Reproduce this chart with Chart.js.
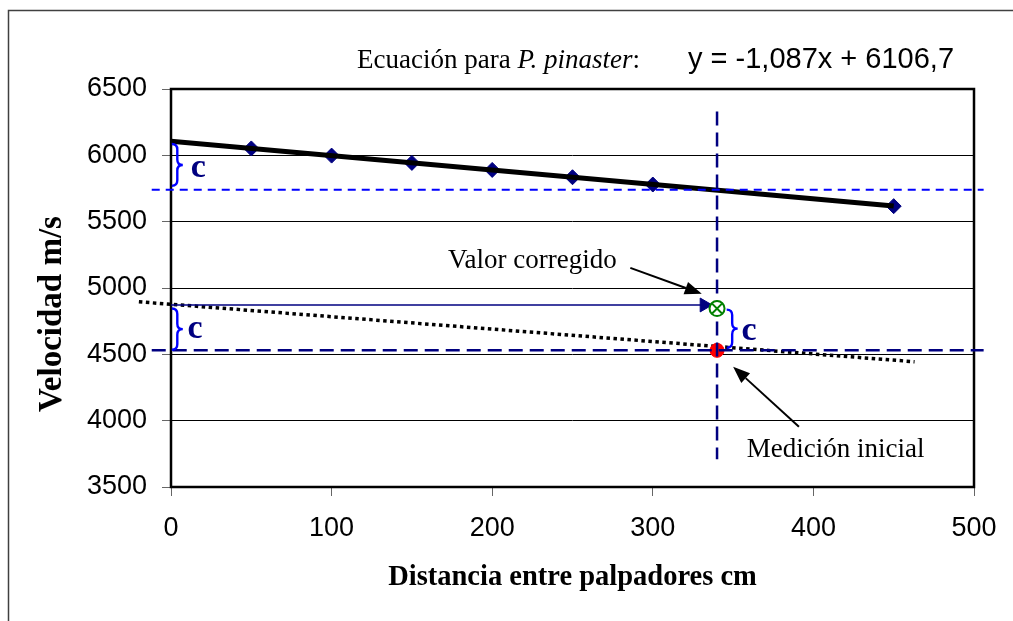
<!DOCTYPE html>
<html>
<head>
<meta charset="utf-8">
<script src="https://cdn.jsdelivr.net/npm/chart.js@4.4.1/dist/chart.umd.min.js"></script>
<style>
  html, body { margin: 0; padding: 0; background: #fff; }
  canvas { display: block; }
</style>
</head>
<body>
<canvas id="velocidadChart" width="1013" height="621"></canvas>
<script>
// medidas P. pinaster
const distancias = [50, 100, 150, 200, 250, 300, 450];
const velocidades = [6052, 5998, 5943, 5890, 5835, 5780, 5617];

// linea de tendencia
const tendenciaX = [0, 450];
const tendenciaY = [6107, 5618];

// tendencia punteada de la medicion
const punteadaX = [-20, 463];
const punteadaY = [4896, 4444];

// lineas guia
const guiaSupX = [-12, 506];
const guiaSupY = [5740, 5740];
const guiaInfX = [-12, 506];
const guiaInfY = [4530, 4530];
const guiaVertX = [340, 340];
const guiaVertY = [6330, 3710];
const flechaX = [0, 332];
const flechaY = [4872, 4872];

// puntos
const inicialX = [340];
const inicialY = [4530];
const corregidoX = [340];
const corregidoY = [4845];

const xTicks = [0, 100, 200, 300, 400, 500];
const yTicks = [3500, 4000, 4500, 5000, 5500, 6000, 6500];

const toPoints = (xs, ys) => xs.map((x, i) => ({x: x, y: ys[i]}));

// anotaciones en coordenadas de datos
const llaves = [
    {x: 0.5, y1: 6085, y2: 5770},
    {x: 0.5, y1: 4845, y2: 4535},
    {x: 346, y1: 4837, y2: 4550}
];
const etiquetasC = [
    {x: 17, y: 5898},
    {x: 15, y: 4678},
    {x: 360, y: 4663}
];
const flechas = [
    {x1: 286, y1: 5152, x2: 330.5, y2: 4956},
    {x1: 391, y1: 3955, x2: 350, y2: 4407}
];
const textos = [
    {text: 'Valor corregido', x: 172.5, y: 5152},
    {text: 'Medición inicial', x: 358.5, y: 3729}
];

const SERIF = '"Liberation Serif", "Times New Roman", serif';
const SANS = '"Liberation Sans", Arial, sans-serif';

function dibujarFlecha(ctx, x1, y1, x2, y2, largo, ancho) {
    const ang = Math.atan2(y2 - y1, x2 - x1);
    const bx = x2 - largo * Math.cos(ang);
    const by = y2 - largo * Math.sin(ang);
    ctx.beginPath();
    ctx.moveTo(x1, y1);
    ctx.lineTo(bx, by);
    ctx.stroke();
    ctx.beginPath();
    ctx.moveTo(x2, y2);
    ctx.lineTo(bx + ancho / 2 * Math.sin(ang), by - ancho / 2 * Math.cos(ang));
    ctx.lineTo(bx - ancho / 2 * Math.sin(ang), by + ancho / 2 * Math.cos(ang));
    ctx.closePath();
    ctx.fill();
}

function dibujarLlave(ctx, x, yTop, yBot, w) {
    const mid = (yTop + yBot) / 2;
    const h = w / 2;
    ctx.beginPath();
    ctx.moveTo(x, yTop);
    ctx.quadraticCurveTo(x + h, yTop, x + h, yTop + h);
    ctx.lineTo(x + h, mid - h);
    ctx.quadraticCurveTo(x + h, mid, x + w, mid);
    ctx.quadraticCurveTo(x + h, mid, x + h, mid + h);
    ctx.lineTo(x + h, yBot - h);
    ctx.quadraticCurveTo(x + h, yBot, x, yBot);
    ctx.stroke();
}

const extras = {
    id: 'extras',
    beforeDraw(chart) {
        const ctx = chart.ctx;
        ctx.save();
        ctx.fillStyle = '#fff';
        ctx.fillRect(0, 0, chart.width, chart.height);
        ctx.strokeStyle = '#404040';
        ctx.lineWidth = 1.5;
        ctx.strokeRect(8.5, 10.5, chart.width + 20, chart.height + 20);
        ctx.restore();
    },
    beforeDatasetsDraw(chart) {
        const {ctx, chartArea: a} = chart;
        ctx.save();
        ctx.strokeStyle = '#000';
        ctx.lineWidth = 2.5;
        ctx.strokeRect(a.left, a.top, a.right - a.left, a.bottom - a.top);
        ctx.restore();
    },
    afterDatasetsDraw(chart) {
        const ctx = chart.ctx;
        const sx = chart.scales.x, sy = chart.scales.y;
        ctx.save();

        // llaves
        ctx.strokeStyle = '#0000FF';
        ctx.lineWidth = 2.4;
        llaves.forEach(l => {
            dibujarLlave(ctx, sx.getPixelForValue(l.x), sy.getPixelForValue(l.y1), sy.getPixelForValue(l.y2), 11);
        });

        // etiquetas c
        ctx.fillStyle = '#000080';
        ctx.font = 'bold 34px ' + SERIF;
        ctx.textAlign = 'center';
        ctx.textBaseline = 'middle';
        etiquetasC.forEach(c => {
            ctx.fillText('c', sx.getPixelForValue(c.x), sy.getPixelForValue(c.y) - 1);
        });

        // flechas
        ctx.strokeStyle = '#000';
        ctx.fillStyle = '#000';
        ctx.lineWidth = 2;
        flechas.forEach(f => {
            dibujarFlecha(ctx, sx.getPixelForValue(f.x1), sy.getPixelForValue(f.y1),
                sx.getPixelForValue(f.x2), sy.getPixelForValue(f.y2), 17, 13);
        });

        // textos
        ctx.font = '27px ' + SERIF;
        ctx.textAlign = 'left';
        ctx.textBaseline = 'alphabetic';
        textos.forEach(t => {
            ctx.fillText(t.text, sx.getPixelForValue(t.x), sy.getPixelForValue(t.y));
        });

        // ecuacion
        let x = 357;
        const base = 68;
        ctx.font = '27px ' + SERIF;
        ctx.fillText('Ecuación para ', x, base);
        x += ctx.measureText('Ecuación para ').width;
        ctx.font = 'italic 27px ' + SERIF;
        ctx.fillText('P. pinaster', x, base);
        x += ctx.measureText('P. pinaster').width;
        ctx.font = '27px ' + SERIF;
        ctx.fillText(':', x, base);
        ctx.font = '29px ' + SANS;
        ctx.fillText('y = -1,087x + 6106,7', 688, base);

        // titulo eje y
        ctx.translate(52, 314);
        ctx.rotate(-Math.PI / 2);
        ctx.font = 'bold 33px ' + SERIF;
        ctx.textAlign = 'center';
        ctx.textBaseline = 'middle';
        ctx.fillText('Velocidad m/s', 0, 0);
        ctx.restore();
    }
};

const ctx = document.getElementById('velocidadChart').getContext('2d');
const velocidadChart = new Chart(ctx, {
    type: 'scatter',
    data: {
        datasets: [
            {
                label: 'corregido cruz',
                data: toPoints(corregidoX, corregidoY),
                pointStyle: 'crossRot',
                pointRadius: 7,
                borderColor: '#008000',
                borderWidth: 2,
                order: 0
            },
            {
                label: 'corregido',
                data: toPoints(corregidoX, corregidoY),
                pointStyle: 'circle',
                pointRadius: 7.5,
                backgroundColor: '#fff',
                borderColor: '#008000',
                borderWidth: 2,
                order: 1
            },
            {
                label: 'flecha',
                data: toPoints(flechaX, flechaY),
                showLine: true,
                borderColor: '#000080',
                borderWidth: 1.5,
                pointStyle: 'triangle',
                pointRadius: [0, 8],
                pointRotation: 90,
                pointBackgroundColor: '#000080',
                pointBorderColor: '#000080',
                pointBorderWidth: 1,
                clip: false,
                order: 2
            },
            {
                label: 'guia vertical',
                data: toPoints(guiaVertX, guiaVertY),
                showLine: true,
                borderColor: '#000080',
                borderWidth: 2.5,
                borderDash: [14, 7],
                pointRadius: 0,
                clip: false,
                order: 3
            },
            {
                label: 'guia inferior',
                data: toPoints(guiaInfX, guiaInfY),
                showLine: true,
                borderColor: '#000080',
                borderWidth: 2.5,
                borderDash: [14, 7],
                pointRadius: 0,
                clip: false,
                order: 4
            },
            {
                label: 'guia superior',
                data: toPoints(guiaSupX, guiaSupY),
                showLine: true,
                borderColor: '#0000FF',
                borderWidth: 2,
                borderDash: [8, 6],
                pointRadius: 0,
                clip: false,
                order: 5
            },
            {
                label: 'inicial',
                data: toPoints(inicialX, inicialY),
                pointStyle: 'circle',
                pointRadius: 7,
                backgroundColor: '#FF0000',
                borderColor: '#FF0000',
                borderWidth: 1,
                order: 6
            },
            {
                label: 'punteada',
                data: toPoints(punteadaX, punteadaY),
                showLine: true,
                borderColor: '#000',
                borderWidth: 3.5,
                borderDash: [3.5, 3.5],
                pointRadius: 0,
                clip: false,
                order: 7
            },
            {
                label: 'tendencia',
                data: toPoints(tendenciaX, tendenciaY),
                showLine: true,
                borderColor: '#000',
                borderWidth: 5,
                pointRadius: 0,
                order: 8
            },
            {
                label: 'P. pinaster',
                data: toPoints(distancias, velocidades),
                pointStyle: 'rectRot',
                pointRadius: 7.5,
                backgroundColor: '#000080',
                borderColor: '#000080',
                borderWidth: 1,
                order: 9
            }
        ]
    },
    options: {
        responsive: false,
        animation: false,
        layout: {
            padding: {top: 89, right: 39, bottom: 0, left: 0}
        },
        plugins: {
            legend: {display: false},
            tooltip: {enabled: false}
        },
        scales: {
            x: {
                type: 'linear',
                min: 0,
                max: 500,
                afterFit: s => { s.height = 134; },
                afterBuildTicks: s => { s.ticks = xTicks.map(v => ({value: v})); },
                grid: {
                    drawOnChartArea: false,
                    drawTicks: true,
                    tickLength: 9,
                    tickColor: '#666'
                },
                border: {display: false},
                ticks: {
                    color: '#000',
                    padding: 16,
                    maxRotation: 0,
                    font: {family: SANS, size: 27},
                    callback: v => String(v)
                },
                title: {
                    display: true,
                    text: 'Distancia entre palpadores cm',
                    color: '#000',
                    padding: {top: 0, bottom: 26},
                    font: {family: SERIF, size: 28.5, weight: 'bold'}
                }
            },
            y: {
                type: 'linear',
                min: 3500,
                max: 6500,
                afterFit: s => { s.width = 171; },
                afterBuildTicks: s => { s.ticks = yTicks.map(v => ({value: v})); },
                grid: {
                    color: '#000',
                    lineWidth: 1,
                    tickLength: 9,
                    tickColor: '#666'
                },
                border: {display: false},
                ticks: {
                    color: '#000',
                    padding: 15,
                    font: {family: SANS, size: 27},
                    callback: v => String(v)
                },
                title: {display: false}
            }
        }
    },
    plugins: [extras]
});
</script>
</body>
</html>
